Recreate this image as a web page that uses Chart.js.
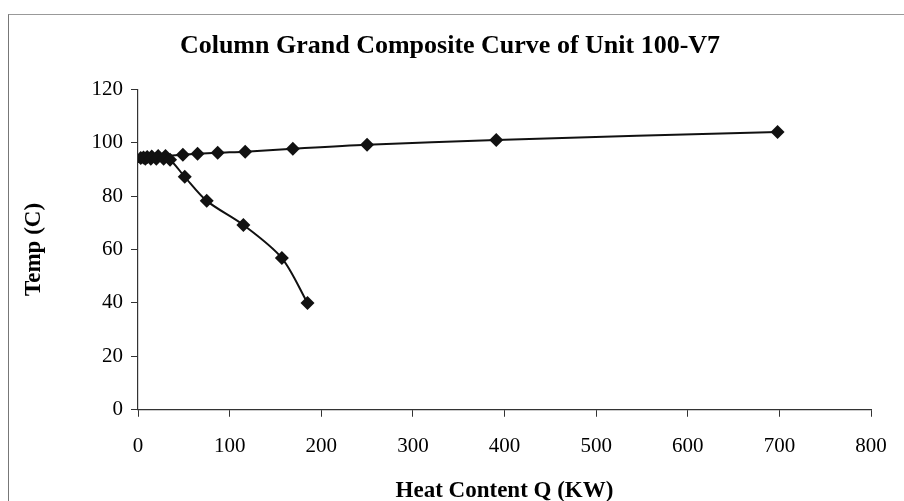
<!DOCTYPE html>
<html lang="en">
<head>
    <meta charset="UTF-8">
    <title>Column Grand Composite Curve of Unit 100-V7</title>
    <script src="https://cdn.jsdelivr.net/npm/chart.js"></script>
    <style>
        body { margin: 0; background: #fff; }
        #frame { position: absolute; left: 0; top: 0; width: 904px; height: 501px; }
        #box { position: absolute; left: 8px; top: 14px; width: 900px; height: 500px;
               border-left: 1px solid #777; border-top: 1px solid #999; }
    </style>
</head>
<body>
    <div id="box"></div>
    <div id="frame">
        <canvas id="gccChart" width="904" height="501"></canvas>
    </div>

    <script>
        // Heat content Q (KW) and temperature (C) from top to bottom
        const heatQ = [698, 391, 250, 169, 117, 87, 65, 49, 30, 22, 15, 10, 6, 3, 8, 14, 20, 28, 35, 51, 75, 115, 157, 185];
        const tempC = [104, 101, 99.2, 97.7, 96.6, 96.2, 95.8, 95.5, 95, 95, 94.8, 94.6, 94.4, 94.2, 94, 94, 94, 94, 93.6, 87.2, 78.2, 69.2, 56.8, 40];
        const xTicks = [0, 100, 200, 300, 400, 500, 600, 700, 800];
        const yTicks = [0, 20, 40, 60, 80, 100, 120];

        const points = heatQ.map((q, i) => ({ x: q, y: tempC[i] }));
        const serif = "'Liberation Serif', 'Times New Roman', serif";

        const ctx = document.getElementById('gccChart').getContext('2d');
        new Chart(ctx, {
            type: 'scatter',
            data: {
                datasets: [{
                    label: 'GCC',
                    data: points,
                    showLine: true,
                    tension: 0.3,
                    borderColor: '#111',
                    borderWidth: 2,
                    backgroundColor: '#111',
                    pointStyle: 'rectRot',
                    pointRadius: 7,
                    pointBorderWidth: 0
                }]
            },
            options: {
                responsive: false,
                animation: false,
                layout: { padding: { left: 20, right: 24, top: 8, bottom: 0 } },
                plugins: {
                    legend: { display: false },
                    tooltip: { enabled: false },
                    title: {
                        display: true,
                        text: 'Column Grand Composite Curve of Unit 100-V7',
                        color: '#000',
                        font: { family: serif, size: 26, weight: 'bold' },
                        padding: { top: 23, bottom: 27 }
                    }
                },
                scales: {
                    x: {
                        type: 'linear',
                        min: 0, max: 800,
                        afterBuildTicks: axis => { axis.ticks = xTicks.map(v => ({ value: v })); },
                        afterFit: axis => { axis.paddingRight = 33; },
                        grid: { drawOnChartArea: false, tickLength: 7, color: '#333' },
                        border: { color: '#333', width: 1.2 },
                        ticks: { color: '#000', padding: 17, font: { family: serif, size: 21 } },
                        title: {
                            display: true, text: 'Heat Content Q (KW)', color: '#000',
                            font: { family: serif, size: 23, weight: 'bold', lineHeight: 0.85 },
                            padding: { top: 5.5, bottom: 0 }
                        }
                    },
                    y: {
                        type: 'linear',
                        min: 0, max: 120,
                        afterBuildTicks: axis => { axis.ticks = yTicks.map(v => ({ value: v })); },
                        afterFit: axis => { axis.width = 118; },
                        grid: { drawOnChartArea: false, tickLength: 7, color: '#333' },
                        border: { color: '#333', width: 1.2 },
                        ticks: { color: '#000', padding: 8, font: { family: serif, size: 21 } },
                        title: {
                            display: true, text: 'Temp (C)', color: '#000',
                            font: { family: serif, size: 23, weight: 'bold' },
                            padding: { top: 0, bottom: 0 }
                        }
                    }
                }
            }
        });
    </script>
</body>
</html>
